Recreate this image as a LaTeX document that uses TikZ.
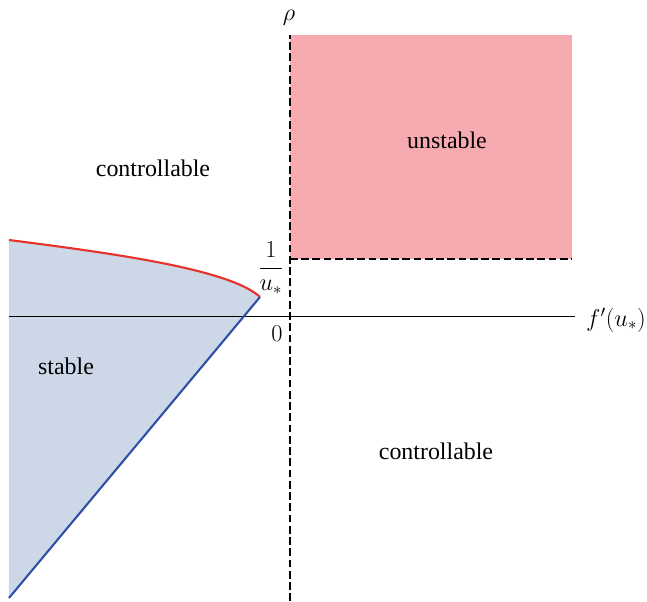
\documentclass[tikz,border=0pt]{standalone}
\usepackage{fontspec}
\setmainfont{Liberation Serif}
\definecolor{unstablepink}{HTML}{F7AAB0}
\definecolor{stableblue}{HTML}{CCD8E8}
\definecolor{curvered}{HTML}{E8322B}
\definecolor{lineblue}{HTML}{3050A8}
\begin{document}
\begin{tikzpicture}[x=0.025cm,y=0.025cm,font=\fontsize{17}{20}\selectfont,
  dashaxis/.style={line width=1.6pt,dash pattern=on 5.5pt off 2.5pt}]
\useasboundingbox (-290,-285) rectangle (357,316);
\coordinate (O) at (0,0); \coordinate (A) at (-281,76); \coordinate (T) at (-30,19); \coordinate (B) at (-281,-282);
\coordinate (R1) at (0,57); \coordinate (R2) at (282,281);
\fill[unstablepink] (R1) rectangle (R2);
\fill[stableblue] (A) .. controls (-180,63) and (-60,47) .. (T) -- (B) -- cycle;
\draw[line width=.7pt] (-281,0) coordinate (XL) -- (285,0) coordinate (XR);
\draw[dashaxis] (0,-285) coordinate (YB) -- (0,281) coordinate (YT);
\draw[dashaxis] (R1) -- (R1 -| R2);
\draw[curvered,line width=1.5pt] (A) .. controls (-180,63) and (-60,47) .. (T);
\draw[lineblue,line width=1.5pt] (T) -- (B);
\node (rho) at (-1,298) {$\rho$}; \node (fprime) at (326,-4) {$f'(u_*)$};
\node (inv) at (-19,48) {$\displaystyle\frac{1}{u_*}$}; \node (zero) at (-13,-18) {$0$};
\node (ctrlA) at (-137,148) {controllable}; \node (unst) at (157,176) {unstable};
\node (stab) at (-224,-50) {stable}; \node (ctrlB) at (146,-135) {controllable};
\end{tikzpicture}
\end{document}
